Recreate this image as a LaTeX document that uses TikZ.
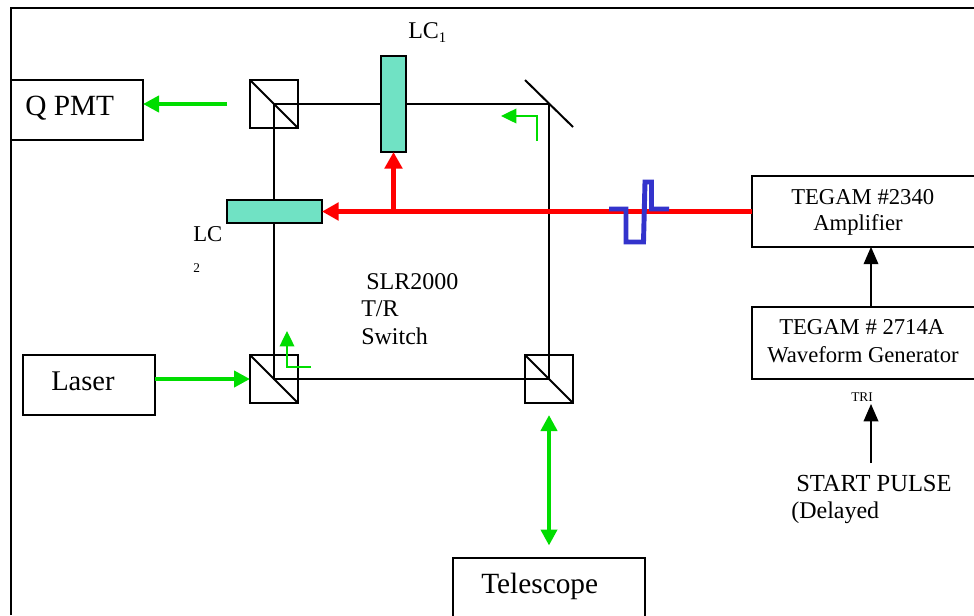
\documentclass[tikz,border=0pt]{standalone}
\usepackage{fontspec}
\setmainfont{Liberation Serif}
\usetikzlibrary{arrows.meta,calc}
\definecolor{gbeam}{RGB}{0,221,0}
\definecolor{rbeam}{RGB}{255,0,0}
\definecolor{pulse}{RGB}{51,51,204}
\definecolor{lcfill}{RGB}{112,226,196}
\tikzset{
  x=0.75pt,y=-0.75pt,
  box/.style={draw=black,line width=1.5pt,fill=white,inner sep=0,outer sep=0},
  cube/.style={draw=black,line width=1.5pt,inner sep=0,outer sep=0,minimum width=36pt,minimum height=36pt},
  lc/.style={draw=black,line width=1.5pt,fill=lcfill,inner sep=0,outer sep=0},
  ray/.style={draw=black,line width=1.1pt},
  wire/.style={draw=black,line width=1.1pt,-{Triangle[length=13pt,width=11pt]}},
  gthick/.style={draw=gbeam,line width=3pt,-{Triangle[length=12pt,width=12pt]}},
  gdbl/.style={draw=gbeam,line width=3pt,{Triangle[length=12pt,width=12pt]}-{Triangle[length=12pt,width=12pt]}},
  gthin/.style={draw=gbeam,line width=1pt,-{Triangle[length=11.5pt,width=11pt]}},
  rarrow/.style={draw=rbeam,line width=3.6pt,-{Triangle[length=12.5pt,width=13pt]}},
  big/.style={font=\fontsize{22}{25}\selectfont,inner sep=0,anchor=base west},
  mid/.style={font=\fontsize{17}{20}\selectfont,inner sep=0,anchor=base west},
  midb/.style={font=\fontsize{18}{20}\selectfont,inner sep=0,anchor=base west},
  tiny/.style={font=\fontsize{10}{12}\selectfont,inner sep=0,anchor=base west},
}
\begin{document}
\begin{tikzpicture}
\useasboundingbox (0,0) rectangle (974,615);
\clip (0,0) rectangle (974,615);
\fill[white] (0,0) rectangle (974,615);
% outer frame
\coordinate (ftl) at (11,8);
\coordinate (ftr) at (974,8);
\coordinate (fbl) at (11,615);
\draw[black,line width=1.5pt] (fbl) -- (ftl) -- (ftr);
% optical path anchors
\node[cube] (qcube) at (274,104) {};
\node[cube] (lcube) at (274,379) {};
\node[cube] (tcube) at (549,379) {};
\coordinate (mirror) at (549,104);
\coordinate (mirrora) at (525,80);
\coordinate (mirrorb) at (573,127);
\draw[ray] (qcube.center) -- (mirror) -- (tcube.center) -- (lcube.center) -- (qcube.center);
\draw[black,line width=1.5pt] (mirrora) -- (mirrorb);
\draw[black,line width=1.5pt] (qcube.north west) -- (qcube.south east);
\draw[black,line width=1.5pt] (lcube.north west) -- (lcube.south east);
\draw[black,line width=1.5pt] (tcube.north west) -- (tcube.south east);
% boxes
\node[box,minimum width=99pt,minimum height=45pt] (qpmt) at (77,110) {};
\node[box,minimum width=99pt,minimum height=45pt] (laser) at (89,385) {};
\node[box,minimum width=144pt,minimum height=60pt] (scope) at (549,598) {};
\node[box,minimum width=190pt,minimum height=53pt] (amp) at (878.7,211.5) {};
\node[box,minimum width=190pt,minimum height=54pt] (wave) at (878.7,343) {};
% LC cells
\node[lc,minimum width=18.75pt,minimum height=72pt] (lcone) at (393.5,104) {};
\node[lc,minimum width=71.25pt,minimum height=17.25pt] (lctwo) at (274.5,211.5) {};
% red drive
\coordinate (rjoin) at (393.5,211.5);
\draw[rarrow] (amp.west |- lctwo.east) -- (lctwo.east);
\draw[rarrow] (rjoin) -- (lcone.south);
% pulse
\coordinate (p0) at (609,209);
\coordinate (p1) at (626,209);
\coordinate (p2) at (626,242);
\coordinate (p3) at (643.5,242);
\coordinate (p4) at (645,182);
\coordinate (p5) at (651.5,182);
\coordinate (p6) at (651.5,209);
\coordinate (p7) at (669,209);
\draw[pulse,line width=3.7pt] (p0) -- (p1) -- (p2) -- (p3) -- (p4) -- (p5) -- (p6) -- (p7);
% green beams
\coordinate (qfree) at (227,104);
\draw[gthick] (qfree) -- (qpmt.east |- qfree);
\coordinate (lfree) at (155,379);
\draw[gthick] (lfree) -- (lcube.west);
\coordinate (tdtop) at (549,415);
\coordinate (tdbot) at (549,545.5);
\draw[gdbl] (tdtop) -- (tdbot);
\coordinate (g1a) at (537,141);
\coordinate (g1b) at (537,116);
\coordinate (g1c) at (501,116);
\draw[gthin] (g1a) -- (g1b) -- (g1c);
\coordinate (g2a) at (311,367);
\coordinate (g2b) at (287,367);
\coordinate (g2c) at (287,331);
\draw[gthin] (g2a) -- (g2b) -- (g2c);
% black arrows
\draw[wire] (wave.north -| 871,0) -- (amp.south -| 871,0);
\coordinate (sfoot) at (871,463);
\coordinate (stip) at (871,404);
\draw[wire] (sfoot) -- (stip);
% text
\node[big] (tq) at (25,115) {Q PMT};
\node[big,font=\fontsize{21.4}{25}\selectfont] (tl) at (51,390) {Laser};
\node[big] (tt) at (481,593) {Telescope};
\node[mid] (ta1) at (791,204) {TEGAM \#2340};
\node[mid] (ta2) at (813,230) {Amplifier};
\node[mid] (tw1) at (779,334) {TEGAM \# 2714A};
\node[mid] (tw2) at (767,362) {Waveform Generator};
\node[tiny] (ttri) at (851,401) {TRI};
\node[midb,font=\fontsize{18.4}{20}\selectfont] (ts1) at (796,491) {START PULSE};
\node[midb] (ts2) at (791,518) {(Delayed};
\node[midb] (tsl) at (366,289) {SLR2000};
\node[midb] (ttr) at (361,316) {T/R};
\node[midb] (tsw) at (361,344) {Switch};
\node[midb] (tlc1) at (408,38) {LC\raisebox{-3pt}{\fontsize{11}{12}\selectfont 1}};
\node[mid] (tlc2) at (193,241) {LC};
\node[tiny] (tlc2s) at (193,272) {2};
\end{tikzpicture}
\end{document}
